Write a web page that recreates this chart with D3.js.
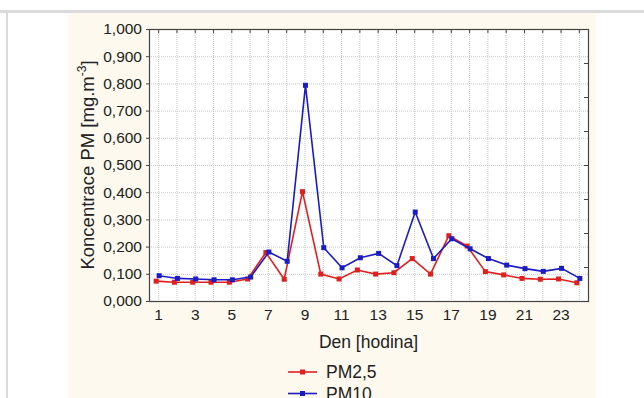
<!DOCTYPE html>
<html>
<head>
<meta charset="utf-8">
<script src="https://cdn.jsdelivr.net/npm/d3@7"></script>
<style>
  body { margin: 0; background: #fff; }
  svg { display: block; font-family: "Liberation Sans", Arial, sans-serif; }
</style>
</head>
<body>
<div id="root"></div>
<script>
// Hours of the day.
const hours = [1, 2, 3, 4, 5, 6, 7, 8, 9, 10, 11, 12, 13, 14, 15, 16, 17, 18, 19, 20, 21, 22, 23, 24];

// Concentrations.
const pm25 = [0.073, 0.069, 0.069, 0.069, 0.069, 0.081, 0.178, 0.080, 0.402, 0.099, 0.081, 0.114,
              0.099, 0.104, 0.156, 0.099, 0.240, 0.202, 0.108, 0.096, 0.083, 0.080, 0.081, 0.067];
const pm10 = [0.093, 0.083, 0.081, 0.078, 0.078, 0.088, 0.180, 0.146, 0.793, 0.196, 0.122, 0.159,
              0.175, 0.130, 0.327, 0.156, 0.229, 0.192, 0.156, 0.132, 0.119, 0.109, 0.120, 0.083];

const yTicks = [0, 0.1, 0.2, 0.3, 0.4, 0.5, 0.6, 0.7, 0.8, 0.9, 1.0];
const xLabels = [1, 3, 5, 7, 9, 11, 13, 15, 17, 19, 21, 23];

const series = [
  { name: 'PM2,5', values: pm25, color: '#e01f1f', shift: -2 },
  { name: 'PM10', values: pm10, color: '#1c1cc4', shift: 1 }
];

let width = 644;
let height = 398;
let plot = { left: 149, right: 588, top: 29, bottom: 301 };

let svg = d3.select('#root')
  .append('svg')
  .attr('width', width)
  .attr('height', height);

// Page frame: grey rules and cream panel.
svg.append('rect').attr('x', 0).attr('y', 10).attr('width', width).attr('height', 3).attr('fill', '#dadada');
svg.append('rect').attr('x', 6).attr('y', 10).attr('width', 2).attr('height', height - 10).attr('fill', '#dadada');
svg.append('rect').attr('x', 68).attr('y', 13).attr('width', 528).attr('height', height - 13).attr('fill', '#fdf9ee');

let xScale = d3.scaleLinear()
  .domain([0.5, 24.5])
  .range([plot.left, plot.right]);

let yScale = d3.scaleLinear()
  .domain([0, 1])
  .range([plot.bottom, plot.top]);

svg.append('rect')
  .attr('x', plot.left).attr('y', plot.top)
  .attr('width', plot.right - plot.left).attr('height', plot.bottom - plot.top)
  .attr('fill', '#fff');

// Dotted grid.
let grid = svg.append('g').attr('stroke', '#c8c8c8').attr('stroke-dasharray', '1,1');
grid.selectAll('.vg').data(hours).enter().append('line')
  .attr('x1', d => xScale(d) + 0.5).attr('x2', d => xScale(d) + 0.5)
  .attr('y1', plot.top).attr('y2', plot.bottom);
grid.selectAll('.hg').data(yTicks.slice(1)).enter().append('line')
  .attr('x1', plot.left).attr('x2', plot.right)
  .attr('y1', d => yScale(d) + 0.5).attr('y2', d => yScale(d) + 0.5);

// Axes.
let xAxis = d3.axisBottom(xScale)
  .tickValues(xLabels)
  .tickSize(0)
  .tickPadding(8)
  .tickFormat(d3.format('d'));

let yAxis = d3.axisLeft(yScale)
  .tickValues(yTicks)
  .tickSize(3)
  .tickPadding(4)
  .tickFormat(d => d3.format('.3f')(d).replace('.', ','));

let topAxis = d3.axisBottom(xScale).tickValues(hours).tickSize(4).tickFormat('');
let rightAxis = d3.axisLeft(yScale).tickValues(d3.range(0, 1.0001, 0.125)).tickSize(4).tickFormat('');

let styleAxis = (g) => {
  g.select('.domain').remove();
  g.selectAll('line').attr('stroke', '#444');
  g.selectAll('text').attr('fill', '#222').style('font-size', '15.5px');
};

svg.append('g').attr('transform', `translate(0, ${plot.bottom})`).call(xAxis).call(styleAxis);
svg.append('g').attr('transform', `translate(${plot.left}, 0)`).call(yAxis).call(styleAxis);
svg.append('g').attr('transform', `translate(0, ${plot.top})`).call(topAxis).call(styleAxis);
svg.append('g').attr('transform', `translate(${plot.right}, 0)`).call(rightAxis).call(styleAxis);

svg.append('rect')
  .attr('x', plot.left + 0.5).attr('y', plot.top + 0.5)
  .attr('width', plot.right - plot.left).attr('height', plot.bottom - plot.top)
  .attr('fill', 'none').attr('stroke', '#444').attr('stroke-width', 1.2);

// Lines and markers.
let line = d3.line()
  .x((d, i) => xScale(hours[i]))
  .y(d => yScale(d));

series.forEach(s => {
  let g = svg.append('g').attr('transform', `translate(${s.shift}, 0)`);
  g.append('path')
    .attr('d', line(s.values))
    .attr('fill', 'none')
    .attr('stroke', s.color)
    .attr('stroke-width', 1.6);
  g.selectAll('rect')
    .data(s.values)
    .enter()
    .append('rect')
    .attr('x', (d, i) => xScale(hours[i]) - 2.5)
    .attr('y', d => yScale(d) - 2.5)
    .attr('width', 5)
    .attr('height', 5)
    .attr('fill', s.color);
});

// Axis titles.
svg.append('text')
  .attr('x', (plot.left + plot.right) / 2)
  .attr('y', 348)
  .attr('text-anchor', 'middle')
  .style('font-size', '17.5px')
  .attr('fill', '#222')
  .text('Den [hodina]');

let yTitle = svg.append('text')
  .attr('transform', `translate(94, ${(plot.top + plot.bottom) / 2}) rotate(-90)`)
  .attr('text-anchor', 'middle')
  .style('font-size', '18.5px')
  .attr('fill', '#222');
yTitle.append('tspan').text('Koncentrace PM [mg.m');
yTitle.append('tspan').attr('dy', -8).style('font-size', '12px').text('-3');
yTitle.append('tspan').attr('dy', 8).text(']');

// Legend.
series.forEach((s, i) => {
  let y = 372 + i * 21.5;
  svg.append('line')
    .attr('x1', 288).attr('x2', 317).attr('y1', y).attr('y2', y)
    .attr('stroke', s.color).attr('stroke-width', 1.6);
  svg.append('rect')
    .attr('x', 300).attr('y', y - 2.5).attr('width', 5).attr('height', 5)
    .attr('fill', s.color);
  svg.append('text')
    .attr('x', 326).attr('y', y + 6)
    .style('font-size', '17.5px')
    .attr('fill', '#222')
    .text(s.name);
});
</script>
</body>
</html>
